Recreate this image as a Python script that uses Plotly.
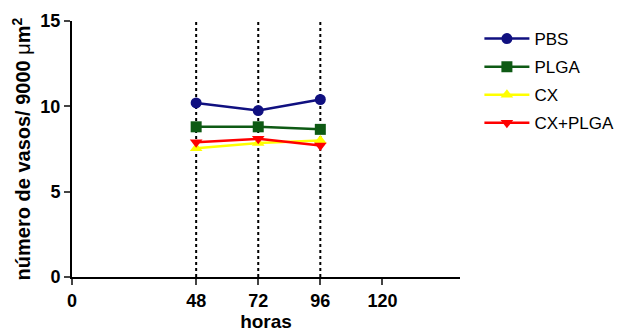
import plotly.graph_objects as go

horas = [48, 72, 96]
pbs = [10.2, 9.75, 10.4]
plga = [8.8, 8.8, 8.65]
cx = [7.55, 7.85, 8.0]
cx_plga = [7.9, 8.1, 7.7]

series = [
    ("PBS", pbs, "#101080", "circle"),
    ("PLGA", plga, "#0e5a14", "square"),
    ("CX", cx, "#ffff00", "triangle-up"),
    ("CX+PLGA", cx_plga, "#ff0000", "triangle-down"),
]

x_ticks = [0, 48, 72, 96, 120]
y_ticks = [0, 5, 10, 15]

fig = go.Figure()
for name, vals, color, sym in series:
    fig.add_trace(go.Scatter(
        x=horas, y=vals, name=name, mode="lines+markers", legendgroup=name,
        line=dict(color=color, width=2.5),
        marker=dict(symbol=sym, size=11, color=color),
    ))

for h in horas:
    fig.add_shape(type="line", x0=h, x1=h, y0=0, y1=15, xref="x", yref="y",
                  line=dict(color="black", width=2, dash="dot"), layer="below")

font = "Liberation Sans, Arial, sans-serif"
# page body has an 8px default margin, so the figure is sized to fit inside it
fig.update_layout(
    width=619, height=328,
    margin=dict(l=64, r=167, t=13, b=59, autoexpand=False),
    plot_bgcolor="white", paper_bgcolor="white",
    font=dict(family=font, color="black"),
    showlegend=True,
    legend=dict(x=1.05, y=1.0, xanchor="left", yanchor="top",
                font=dict(size=17, family=font), tracegroupgap=3,
                itemwidth=45),
    xaxis=dict(range=[0, 150], tickvals=x_ticks, ticks="outside", ticklen=6,
               tickwidth=2, showgrid=False, zeroline=False, showline=True,
               linecolor="black", linewidth=2, automargin=False,
               tickfont=dict(size=18, family=font, weight="bold"),
               title=dict(text="<b>horas</b>", font=dict(size=19), standoff=4)),
    yaxis=dict(range=[0, 15], tickvals=y_ticks, ticks="outside", ticklen=6,
               tickwidth=2, showgrid=False, zeroline=False, showline=True,
               linecolor="black", linewidth=2, automargin=False,
               tickfont=dict(size=18, family=font, weight="bold"),
               title=dict(text="<b>número de vasos/ 9000 </b>μ<b>m<sup>2</sup></b>",
                          font=dict(size=20), standoff=4)),
)

fig.write_html("out.html")
